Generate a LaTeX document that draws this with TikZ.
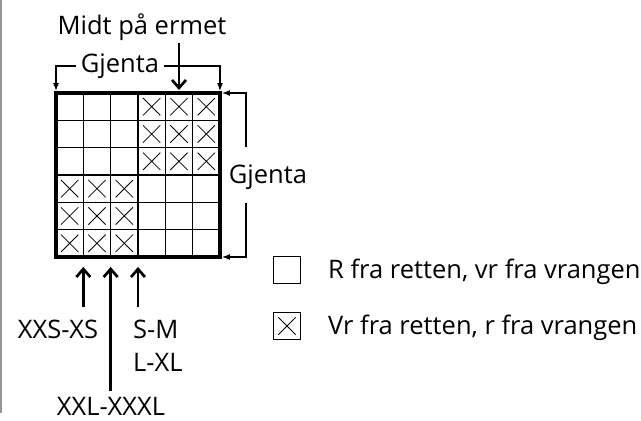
\documentclass[tikz,border=0pt]{standalone}
\usepackage{fontspec}
\setmainfont{Open Sans}
\usetikzlibrary{arrows.meta}
\definecolor{kantgraa}{RGB}{150,150,150}
\begin{document}
\begin{tikzpicture}[x=1pt,y=-1pt,font=\fontsize{25.5}{30}\selectfont,inner sep=2pt,
    rute/.style={draw, minimum size=27.33pt, inner sep=0pt, outer sep=0pt, line width=1.3pt},
    kryss/.style={rute, path picture={\draw[line width=0.8pt]
        ([shift={(5pt,5pt)}]path picture bounding box.south west) -- ([shift={(-5pt,-5pt)}]path picture bounding box.north east)
        ([shift={(5pt,-5pt)}]path picture bounding box.north west) -- ([shift={(-5pt,5pt)}]path picture bounding box.south east);}},
    tykkpil/.style={line width=2.7pt, -{Straight Barb[length=8pt,width=14pt]}},
    tynnpil/.style={line width=1.1pt, -{Latex[length=8pt,width=6pt]}}]
    \useasboundingbox (0,0) rectangle (641,421);
    \draw[kantgraa, line width=2pt] (1,0) -- (1,413);
    \foreach \r in {1,...,6}
        \foreach \k in {1,...,6} {
            \pgfmathtruncatemacro\kr{(\r<4)==(\k>3)}
            \ifnum\kr=1 \def\stil{kryss}\else\def\stil{rute}\fi
            \node[\stil] (c\r\k) at ({56+(\k-0.5)*27.33},{93+(\r-0.5)*27.33}) {};
        }
    \draw[line width=4pt] (c11.north west) rectangle (c66.south east);
    \node (midt) at (142,27) {Midt på ermet};
    \draw[tykkpil, shorten >=3pt] (c15.north |- midt.south) -- (c15.north);
    \node[inner xsep=5pt] (gjenta1) at (120,66) {Gjenta};
    \draw[tynnpil, shorten >=2pt] (gjenta1.west) -| (c11.north west);
    \draw[tynnpil, shorten >=2pt] (gjenta1.east) -| (c16.north east);
    \node (gjenta2) at (268,177) {Gjenta};
    \coordinate (b1) at (246,147);
    \coordinate (b2) at (246,203);
    \draw[tynnpil, shorten >=2pt] (b1) |- (c16.north east);
    \draw[tynnpil, shorten >=2pt] (b2) |- (c66.south east);
    \node (xxs) at (58,329) {XXS-XS};
    \node[anchor=west] (sm) at (131,329) {S-M};
    \node[anchor=west] (lxl) at (131,362) {L-XL};
    \node (xxl) at (111,406) {XXL-XXXL};
    \draw[tykkpil, shorten >=10pt] ([yshift=-50pt]c61.south east) -- (c61.south east);
    \draw[tykkpil, shorten >=10pt] ([yshift=-134pt]c62.south east) -- (c62.south east);
    \draw[tykkpil, shorten >=10pt] ([yshift=-50pt]c63.south east) -- (c63.south east);
    \node[rute] (tom) at (287,270) {};
    \node[kryss] (fylt) at (287,326) {};
    \node[anchor=west] (tomtekst) at (326,272) {R fra retten, vr fra vrangen};
    \node[anchor=west] (fylttekst) at (326,328) {Vr fra retten, r fra vrangen};
\end{tikzpicture}
\end{document}
